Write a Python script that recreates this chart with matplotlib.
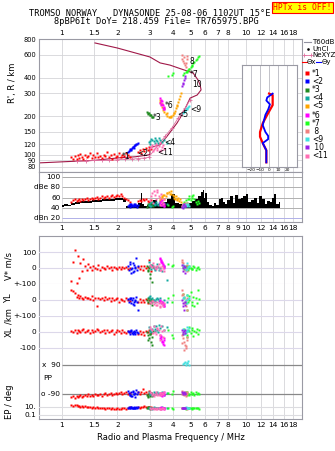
import matplotlib
matplotlib.use('Agg')
import matplotlib.pyplot as plt
from matplotlib.ticker import NullLocator, NullFormatter
from matplotlib.patches import Rectangle

# ---------------- data ----------------
# mode 1 (*1, red)
f1 = [1.12, 1.15, 1.17, 1.2, 1.22, 1.24, 1.26, 1.28, 1.3, 1.33, 1.36, 1.39, 1.42, 1.45, 1.48,
      1.51, 1.54, 1.57, 1.6, 1.64, 1.68, 1.72, 1.76, 1.8, 1.84, 1.88, 1.92, 1.96, 2.0, 2.04,
      2.08, 2.12, 2.17, 2.22, 2.27, 2.35, 2.6, 2.65, 2.7, 2.75, 2.8, 2.86, 2.92, 2.98, 3.04]
h1 = [95, 93, 97, 92, 99, 94, 101, 96, 93, 100, 95, 98, 103, 94, 99, 96, 102, 95, 98, 94, 100,
      97, 104, 95, 99, 93, 101, 96, 98, 102, 95, 100, 97, 103, 99, 96, 104, 108, 102, 110, 106,
      112, 108, 115, 110]
a1 = [52, 55, 58, 54, 56, 57, 53, 58, 55, 57, 59, 56, 58, 60, 57, 59, 61, 58, 60, 62, 59, 61,
      63, 60, 62, 64, 61, 63, 65, 62, 66, 63, 60, 58, 55, 52, 54, 56, 53, 57, 55, 58, 54, 52, 56]
v1 = [-80, 40, 110, -95, 75, -60, 30, -20, 55, 10, -15, 25, 5, -10, 15, 0, -5, 20, -12, 8, 3,
      -8, 12, -3, 6, -10, 4, 0, -6, 9, -4, 7, -2, 5, -8, 3, 8, -5, 10, -12, 15, -3, 6, 50, -20]
yl1 = [60, 55, 45, 20, 30, 10, 25, 15, 5, 20, 10, 15, 5, 25, 0, 10, -40, 15, 5, 10, 0, 20, 5,
       10, -5, 15, 0, 5, 10, -10, 5, 0, -5, 10, 0, -5, -10, 5, -15, 0, -10, 5, -20, 0, -5]
xl1 = [5, 0, 10, -5, 15, 5, 0, 10, 20, 0, 5, 15, -5, 10, 0, 5, 20, 10, 0, 5, 15, -5, 10, 0, 5,
       10, -10, 0, 15, 5, -5, 10, 0, -5, 5, 0, -15, 5, -10, 0, -20, 5, 0, 10, -5]
pp1 = [-110, -105, -115, -100, -108, -102, -95, -110, -100, -98, -105, -92, -100, -96, -104,
       -90, -98, -94, -88, -100, -92, -86, -96, -90, -84, -94, -88, -82, -92, -86, -80, -90,
       -84, -78, -88, -82, -76, -90, -80, -60, -85, -78, -88, -70, -82]
ep1 = [30, 20, 40, 25, 15, 20, 12, 18, 10, 15, 8, 12, 10, 7, 9, 6, 8, 5, 7, 6, 5, 4, 6, 5, 4,
       5, 3, 4, 5, 3, 4, 6, 5, 4, 6, 8, 10, 7, 12, 9, 14, 10, 8, 12, 10]

# mode 2 (<2, blue)
f2 = [2.28, 2.31, 2.34, 2.37, 2.4, 2.43, 2.46, 2.49, 2.52, 2.55, 2.58, 2.33, 2.42, 2.5, 2.38, 2.47]
h2 = [104, 106, 108, 110, 112, 114, 116, 118, 120, 121, 122, 110, 115, 119, 108, 113]
a2 = [44, 46, 42, 48, 45, 43, 47, 44, 46, 42, 45, 48, 43, 47, 44, 46]
v2 = [10, -15, 25, -5, 0, 30, -20, 5, 60, -10, 15, 40, -25, 0, -30, 20]
yl2 = [5, -10, 15, -20, 0, 10, -30, -5, 20, -15, -60, 5, -25, 0, 10, -10]
xl2 = [5, 0, -10, 10, -5, 0, 5, -15, 10, 0, -5, 5, -10, 0, 5, -5]
pp2 = [-70, -85, -95, -75, -100, -80, -90, -110, -65, -88, -78, -95, -72, -85, -100, -90]
ep2 = [6, 8, 5, 10, 7, 6, 9, 5, 8, 7, 10, 6, 7, 5, 8, 6]

# mode 3 (*3, dark green)
f3 = [2.88, 2.92, 2.96, 3.0, 3.04, 3.08, 3.12, 2.94, 3.02, 3.1]
h3 = [214, 212, 210, 205, 202, 198, 195, 208, 204, 197]
a3 = [42, 45, 48, 44, 50, 46, 43, 47, 45, 49]
v3 = [10, -20, 0, -40, 20, -90, 5, -10, -60, 15]
yl3 = [0, -10, 10, -20, 5, -30, 0, 15, -5, -15]
xl3 = [0, -20, -40, -10, -60, -30, 5, -50, -15, -80]
pp3 = [-95, -100, -90, -105, -85, -100, -95, -110, -92, -98]
ep3 = [6, 5, 8, 4, 6, 7, 5, 9, 6, 5]

# mode 4 (<4, teal)
f4 = [2.95, 3.0, 3.05, 3.1, 3.15, 3.2, 3.25, 3.3, 3.35, 3.4, 3.5, 3.6, 3.7, 3.02, 3.18, 3.32]
h4 = [125, 128, 132, 130, 127, 134, 131, 128, 135, 130, 126, 129, 124, 120, 122, 124]
a4 = [46, 50, 44, 52, 48, 45, 51, 47, 49, 53, 46, 50, 48, 44, 47, 45]
v4 = [35, 10, -5, 20, 0, -15, 5, 25, -10, 0, -20, 10, -75, 15, -5, 5]
yl4 = [20, 5, -10, 10, 0, -15, 5, 15, -5, 10, -20, 0, -10, 25, -5, 5]
xl4 = [30, 10, 0, 20, 40, 5, 35, 15, 45, 25, 40, 10, 30, 5, 20, 0]
pp4 = [-80, -90, -85, -95, -75, -88, -92, -80, -86, -90, -78, -95, -84, -88, -82, -90]
ep4 = [5, 7, 6, 4, 8, 5, 6, 7, 5, 6, 8, 5, 6, 7, 5, 6]

# mode 5 (<5, orange)
f5 = [3.4, 3.42, 3.45, 3.5, 3.55, 3.6, 3.66, 3.72, 3.8, 3.86, 3.93, 4.0, 4.06, 4.12, 4.18,
      4.22, 4.26, 4.3, 4.35, 4.42, 3.48, 3.58, 3.7, 3.9, 4.05, 4.2]
h5 = [268, 258, 248, 236, 224, 214, 206, 200, 197, 196, 198, 203, 210, 220, 232, 245, 258,
      272, 288, 305, 250, 230, 210, 200, 212, 240]
a5 = [55, 60, 58, 62, 65, 57, 63, 68, 70, 66, 72, 64, 60, 58, 62, 56, 60, 54, 58, 52, 61, 64,
      69, 67, 63, 57]

# mode 6 (*6, magenta)
f6 = [3.4, 3.43, 3.46, 3.5, 3.53, 3.56, 3.6, 3.45, 3.52, 3.58, 3.42, 3.5]
h6 = [275, 268, 260, 250, 242, 235, 228, 245, 232, 225, 255, 262]
a6 = [48, 52, 45, 55, 50, 43, 47, 53, 49, 44, 51, 46]
v6 = [60, 50, 40, 30, 20, 10, 0, 45, 25, 5, 55, 35]
yl6 = [-5, -10, -20, -15, -30, -25, -40, -10, -20, -35, 0, -15]
xl6 = [-20, -30, -45, -60, -75, -50, -35, -25, -65, -80, -40, -55]
pp6 = [-90, -85, -95, -100, -88, -92, -80, -98, -86, -94, -90, -82]
ep6 = [5, 6, 4, 7, 5, 6, 4, 8, 5, 6, 7, 5]

# mode 7 (*7, green)
f7 = [4.55, 4.62, 4.7, 4.78, 4.85, 4.92, 5.0, 5.08, 5.16, 5.24, 5.32, 5.4, 5.48, 5.56, 4.75,
      4.9, 5.05, 4.0, 3.96, 3.76]
h7 = [420, 430, 440, 450, 460, 470, 485, 500, 515, 530, 545, 560, 575, 590, 445, 465, 490,
      434, 418, 411]
a7 = [48, 52, 56, 50, 58, 62, 55, 60, 64, 57, 52, 48, 54, 50, 46, 58, 62, 44, 42, 45]
v7 = [5, -5, 10, 0, -10, 15, 0, -5, 10, 5, -10, 0, 5, -5, 10, 0, -8, 20, 15, 25]
yl7 = [40, 10, -20, 30, -10, 0, 50, -30, 20, -40, 10, -20, 60, 5, -60, 25, -15, 30, -10, 15]
xl7 = [-10, 20, 0, -20, 10, 30, -5, 15, -25, 5, 0, 20, -15, 10, -30, 5, 25, -40, -20, 10]
pp7 = [-85, -90, -80, -95, -88, -92, -78, -90, -85, -95, -80, -90, -86, -92, -75, -98, -88,
       -70, -90, -82]
ep7 = [5, 6, 4, 7, 5, 6, 5, 4, 6, 5, 7, 6, 5, 4, 6, 5, 7, 4, 6, 5]

# mode 8 (8, salmon)
f8 = [4.5, 4.55, 4.6, 4.65, 4.7, 4.75, 4.8, 4.5, 4.6, 4.7]
h8 = [560, 540, 520, 500, 520, 560, 590, 600, 580, 480]
a8 = [44, 48, 46, 50, 45, 47, 49, 43, 46, 48]
v8 = [50, 30, 10, -10, 0, 20, -20, 40, 5, -5]
yl8 = [60, 40, 20, -10, -40, -60, 10, 30, -20, 0]
xl8 = [-20, -40, -60, -80, -100, -50, -30, -70, -110, -90]
pp8 = [-70, -85, -95, -80, -100, -90, -75, -88, -92, -85]
ep8 = [5, 6, 7, 5, 6, 4, 6, 5, 7, 6]

# mode 9 (<9, cyan)
f9 = [4.55, 4.6, 4.65, 4.7, 4.75, 4.8, 4.85, 4.9]
h9 = [212, 216, 220, 225, 228, 232, 235, 238]
a9 = [42, 45, 44, 47, 43, 46, 48, 44]
v9 = [20, 10, 0, -10, 30, -5, 5, 15]
yl9 = [10, 20, -10, 0, 30, -20, 5, 15]
xl9 = [20, 10, -10, 0, 30, 15, 5, 25]
pp9 = [95, 100, 110, 90, 105, 100, 115, 92]
ep9 = [6, 7, 5, 8, 6, 7, 5, 6]

# mode 10 (10, purple)
f10 = [4.48, 4.52, 4.56, 4.6, 4.64, 4.68]
h10 = [345, 355, 365, 380, 395, 410]
a10 = [42, 45, 40, 47, 44, 43]
v10 = [20, 0, -20, 10, -30, 5]
yl10 = [0, -20, -40, -60, -10, -30]
xl10 = [10, 0, -10, 5, -5, 15]
pp10 = [-80, -85, -90, -75, -88, -82]
ep10 = [6, 5, 7, 6, 5, 6]

# mode 11 (<11, pink)
f11 = [3.0, 3.05, 3.1, 3.15, 3.2, 3.25, 3.3, 3.35, 3.4, 3.45, 3.5, 3.55, 3.6, 3.12, 3.28, 3.42]
h11 = [112, 115, 118, 110, 116, 120, 113, 117, 122, 108, 114, 119, 111, 106, 109, 107]
a11 = [55, 62, 68, 72, 65, 58, 70, 63, 60, 66, 52, 48, 57, 50, 74, 45]
v11 = [20, 10, 5, 15, 0, -5, 10, 25, 5, -10, 15, 0, -20, 30, 8, -15]
yl11 = [-10, -20, -5, -25, -15, -30, -10, -20, -35, -15, -25, -40, -20, -5, -30, -45]
xl11 = [30, 20, 10, 40, 0, -10, 25, 15, -20, 35, 5, -30, 10, -5, 20, -50]
pp11 = [-80, -85, -95, -100, -90, -78, -88, -95, -82, -98, -85, -92, -80, -88, -96, -84]
ep11 = [5, 4, 6, 3, 5, 4, 6, 5, 4, 3, 5, 6, 4, 5, 4, 3]

# true height profile and NeXYZ
rf = [0.75, 1.06, 1.5, 2.0, 2.5, 2.9, 3.0, 3.0, 3.2, 3.41, 3.72, 4.21, 4.54, 4.96, 5.42, 5.69,
      5.62, 5.48, 5.15, 4.37, 3.86, 3.41, 3.0, 2.0, 1.51]
rh = [86, 88, 90, 94, 96, 99, 100, 113, 116, 119, 139, 176, 211, 276, 292, 320, 350, 382, 434,
      470, 500, 520, 579, 680, 745]
ne_f = [1.2, 1.35, 1.5, 1.65, 1.8, 2.0, 2.2, 2.4, 2.6, 2.8, 2.95, 3.63, 3.96, 4.27, 4.66, 4.96]
ne_h = [89, 89, 90, 90, 90, 91, 92, 92, 93, 94, 95, 139, 162, 193, 231, 267]

# tilt inset
tx = [0, 4, 4, 4, -1, -7, -10, -10, -7, -3, -3]
tx_h = [300, 292, 260, 244, 211, 176, 150, 138, 123, 108, 87]
ty = [4, -2, -3, 1, -1, -4, -7, -4, -1, -1, -7, -3, -3]
ty_h = [300, 280, 265, 247, 225, 205, 170, 150, 140, 132, 123, 108, 87]

# T60dB amplitude trace (top and bottom of the black band)
tf = [1.0, 1.05, 1.1, 1.15, 1.2, 1.3, 1.4, 1.5, 1.6, 1.7, 1.8, 1.9, 2.0, 2.1, 2.2, 2.25, 2.35,
      2.45, 2.55, 2.65, 2.7, 2.75, 2.85, 2.95, 3.05, 3.2, 3.4, 3.6, 3.8, 4.0, 4.2, 4.4, 4.6,
      4.8, 5.0, 5.2, 5.4, 5.6, 5.75, 5.85, 5.95, 6.05, 6.2, 6.4, 6.6, 6.8, 7.0, 7.2, 7.4, 7.6,
      7.8, 8.0, 8.3, 8.6, 8.9, 9.2, 9.5, 9.8, 10.1, 10.4, 10.8, 11.2, 11.6, 12.0, 12.4, 12.8,
      13.2, 13.6, 14.0, 14.4, 14.8, 15.2]
tv = [45, 48, 46, 50, 52, 53, 54, 55, 56, 57, 58, 58, 60, 59, 57, 44, 46, 43, 45, 50, 68, 48,
      44, 46, 50, 55, 48, 52, 58, 66, 50, 48, 44, 46, 50, 54, 58, 62, 70, 74, 60, 68, 52, 45,
      44, 50, 46, 58, 60, 52, 48, 56, 62, 50, 64, 58, 60, 62, 66, 52, 56, 60, 50, 62, 58, 48,
      54, 52, 60, 66, 48, 52]
tb = [42, 44, 43, 46, 48, 49, 50, 51, 52, 53, 54, 54, 56, 55, 52, 40, 40, 40, 40, 40, 40, 40,
      40, 40, 40, 40, 40, 40, 40, 40, 40, 40, 40, 40, 40, 40, 40, 40, 40, 40, 40, 40, 40, 40,
      40, 40, 40, 40, 40, 40, 40, 40, 40, 40, 40, 40, 40, 40, 40, 40, 40, 40, 40, 40, 40, 40,
      40, 40, 40, 40, 40, 40]

top_ticks = [1, 1.5, 2, 3, 4, 5, 6, 7, 8, 10, 12, 14, 16, 18]
mid_ticks = [1, 1.5, 2, 3, 4, 5, 6, 7, 8, 9, 10, 12, 14, 16, 18]
h_ticks = [80, 90, 100, 120, 150, 200, 300, 400, 600, 800]

RED, BLUE, DGREEN, TEAL = '#ff0000', '#0000ff', '#208a20', '#10a8a0'
ORANGE, MAGENTA, GREEN, SALMON = '#ffa500', '#ff00ff', '#20ff20', '#f08080'
CYAN, PURPLE, PINK = '#40e0e0', '#9a20e8', '#ff6eb4'

modes = [
    ('*1', RED, f1, h1, a1, v1, yl1, xl1, pp1, ep1),
    ('<2', BLUE, f2, h2, a2, v2, yl2, xl2, pp2, ep2),
    ('*3', DGREEN, f3, h3, a3, v3, yl3, xl3, pp3, ep3),
    ('<4', TEAL, f4, h4, a4, v4, yl4, xl4, pp4, ep4),
    ('<5', ORANGE, f5, h5, a5, None, None, None, None, None),
    ('*6', MAGENTA, f6, h6, a6, v6, yl6, xl6, pp6, ep6),
    ('*7', GREEN, f7, h7, a7, v7, yl7, xl7, pp7, ep7),
    (' 8', SALMON, f8, h8, a8, v8, yl8, xl8, pp8, ep8),
    ('<9', CYAN, f9, h9, a9, v9, yl9, xl9, pp9, ep9),
    (' 10', PURPLE, f10, h10, a10, v10, yl10, xl10, pp10, ep10),
    ('<11', PINK, f11, h11, a11, v11, yl11, xl11, pp11, ep11),
]

# label positions next to echo traces (freq, height)
mode_labels = [('*1', 2.1, 96), ('<2', 2.55, 102), ('*3', 3.12, 193), ('<4', 3.6, 124),
               ('<11', 3.3, 104), ('<5', 4.2, 204), ('*6', 3.6, 240), ('<9', 4.95, 223),
               ('10', 5.1, 350), ('*7', 4.95, 420), ('8', 4.95, 530)]

# ---------------- figure ----------------
W, H = 335, 451
fig = plt.figure(figsize=(W / 100, H / 100), dpi=100)
GRID = '#d4d4d8'
FRAME = '#9a9aa4'
FS = 5.3
MS = 2.0


def px_axes(x0, y0, x1, y1):
    return fig.add_axes([x0 / W, 1 - y1 / H, (x1 - x0) / W, (y1 - y0) / H])


def freq_x(ax, ticks=None, where='bottom'):
    ax.set_xscale('log')
    ax.set_xlim(0.75, 20.1)
    ax.xaxis.set_minor_locator(NullLocator())
    ax.xaxis.set_minor_formatter(NullFormatter())
    if ticks is None:
        ax.set_xticks([])
    else:
        ax.set_xticks(ticks, [('%g' % t) for t in ticks])
        if where == 'top':
            ax.xaxis.tick_top()
    ax.tick_params(axis='x', length=0, labelsize=FS, pad=2)


def frame(ax):
    for s in ax.spines.values():
        s.set_color(FRAME)
        s.set_linewidth(0.8)


def no_frame(ax):
    ax.patch.set_visible(False)
    for s in ax.spines.values():
        s.set_visible(False)


# ---- top panel: virtual height ----
ax_h = px_axes(39, 39, 302, 172)
freq_x(ax_h, top_ticks, 'top')
ax_h.set_yscale('log')
ax_h.set_ylim(73, 800)
ax_h.yaxis.set_minor_locator(NullLocator())
ax_h.yaxis.set_minor_formatter(NullFormatter())
ax_h.set_yticks(h_ticks, [str(t) for t in h_ticks])
ax_h.tick_params(axis='y', length=0, labelsize=4.8, pad=2)
frame(ax_h)
for t in top_ticks:
    ax_h.axvline(t, color=GRID, lw=0.6, zorder=0)
for t in h_ticks[:-1]:
    ax_h.axhline(t, color=GRID, lw=0.6, zorder=0)
ax_h.plot(rf, rh, color='#a01848', lw=0.8, zorder=2)
ax_h.plot(ne_f, ne_h, color='#e070a0', lw=0.6, marker='+', ms=3, mew=0.6, zorder=2)
for name, c, f, h, *rest in modes:
    ax_h.plot(f, h, 's', ms=MS, mfc=c, mec='none', zorder=3)
for txt, fx, hy in mode_labels:
    ax_h.text(fx, hy, txt, fontsize=5.5, color='black', ha='left', va='center', zorder=4)
fig.text(13 / W, 1 - 83 / H, "R', R / km", rotation=90, fontsize=6, ha='center', va='center')

# tilt inset
ax_t = px_axes(242, 65, 297, 167)
ax_t.set_xlim(-30, 31)
ax_t.set_yscale('log')
ax_t.set_ylim(80, 502)
ax_t.yaxis.set_minor_locator(NullLocator())
ax_t.set_yticks([])
ax_t.set_xticks([-20, -10, 0, 10, 20])
ax_t.tick_params(axis='x', length=0, labelsize=3.1, pad=1)
ax_t.set_xlabel('Tilt / deg', fontsize=4, labelpad=0)
for t in [-20, -10, 0, 10, 20]:
    ax_t.axvline(t, color='#b8b8c0', lw=0.6, zorder=0)
frame(ax_t)
ax_t.plot(tx, tx_h, color=RED, lw=1.6)
ax_t.plot(ty, ty_h, color=BLUE, lw=1.3)

# ---- amplitude panel ----
ax_d = px_axes(39, 172, 302, 222)
freq_x(ax_d, mid_ticks, 'bottom')
ax_d.set_ylim(12, 110)
ax_d.set_yticks([])
frame(ax_d)
for t in mid_ticks:
    ax_d.axvline(t, color=GRID, lw=0.6, zorder=0)
for lev, col in [(100, '#a8a8a8'), (80, '#b0b0b0'), (60, '#b0b0b0'), (40, '#b0b0b0'), (20, '#b0b0e8')]:
    ax_d.hlines(lev, 1.0, 20.1, color=col, lw=0.7, zorder=1)
for lev, lab in [(100, '100'), (80, 'dBe 80'), (60, '60'), (40, '40'), (20, 'dBn 20')]:
    ax_d.text(0.98, lev, lab, fontsize=FS, ha='right', va='center')
ax_d.fill_between(tf, tb, tv, step='mid', color='black', lw=0, zorder=2)
for name, c, f, h, a, *rest in modes:
    ax_d.plot(f, a, 's', ms=MS, mfc=c, mec='none', zorder=3)

# ---- lower panel: velocities, polarisation ----
ax_l = px_axes(39, 236, 302, 419)
freq_x(ax_l, top_ticks, 'bottom')
ax_l.set_yticks([])
frame(ax_l)
for t in top_ticks:
    ax_l.axvline(t, color=GRID, lw=0.6, zorder=0)
ax_l.set_xlabel('Radio and Plasma Frequency / MHz', fontsize=6, labelpad=4)

ax_v = px_axes(39, 240, 302, 284)
ax_y = px_axes(39, 284, 302, 316)
ax_x = px_axes(39, 316, 302, 356)
ax_p = px_axes(39, 356, 302, 400)
ax_e = px_axes(39, 400, 302, 419)
sub = [(ax_v, (-100, 175), [100, 0], ['100', '0'], [100, 0, -100]),
       (ax_y, (-100, 100), [100, 0], ['+-100', '0'], [0]),
       (ax_x, (-150, 100), [100, 0, -100], ['+-100', '0', '-100'], [100, 0, -100])]
for ax, lim, tk, tl, lines in sub:
    freq_x(ax)
    no_frame(ax)
    ax.set_ylim(lim)
    ax.set_yticks(tk, tl)
    ax.tick_params(axis='y', length=0, labelsize=FS, pad=2)
    for lv in lines:
        ax.axhline(lv, color='#dcd8ea', lw=0.8, zorder=0)

freq_x(ax_p)
no_frame(ax_p)
ax_p.set_ylim(-127, 146)
ax_p.set_yticks([])
ax_p.hlines([90, -90], 1.0, 20.1, color='#888888', lw=0.9, zorder=1)
ax_p.text(0.98, 90, 'x  90', fontsize=FS, ha='right', va='center')
ax_p.text(0.98, -90, 'o -90', fontsize=FS, ha='right', va='center')
ax_p.text(0.79, 10, 'PP', fontsize=FS, ha='left', va='center')

freq_x(ax_e)
no_frame(ax_e)
ax_e.set_yscale('log')
ax_e.set_ylim(0.01, 562)
ax_e.yaxis.set_minor_locator(NullLocator())
ax_e.yaxis.set_minor_formatter(NullFormatter())
ax_e.set_yticks([10, 0.1], ['10.', '0.1'])
ax_e.tick_params(axis='y', length=0, labelsize=FS, pad=2)
ax_e.axhline(10, color='#dcdce0', lw=0.8, zorder=0)
ax_e.axhline(0.1, color='#dcdce0', lw=0.8, zorder=0)

for name, c, f, h, a, v, yl, xl, pp, ep in modes:
    if v is None:
        continue
    ax_v.plot(f, v, 's', ms=MS, mfc=c, mec='none')
    ax_y.plot(f, yl, 's', ms=MS, mfc=c, mec='none')
    ax_x.plot(f, xl, 's', ms=MS, mfc=c, mec='none')
    ax_p.plot(f, pp, 's', ms=MS, mfc=c, mec='none')
    ax_e.plot(f, ep, 's', ms=MS, mfc=c, mec='none')

for y, lab in [(266, 'V* m/s'), (298, 'YL'), (316, '/km'), (332, 'XL'), (402, 'EP / deg')]:
    fig.text(9 / W, 1 - y / H, lab, rotation=90, fontsize=6, ha='center', va='center')

# ---- titles, legend, status box (pixel overlay) ----
ov = fig.add_axes([0, 0, 1, 1])
ov.set_xlim(0, W)
ov.set_ylim(H, 0)
ov.axis('off')
ov.patch.set_visible(False)
ov.text(150, 13, 'TROMSO NORWAY   DYNASONDE 25-08-06 1102UT 15\u00b0E', fontsize=6.2,
        family='DejaVu Sans Mono', ha='center', va='center')
ov.text(156, 21, '8pBP6It DoY= 218.459 File= TR765975.BPG', fontsize=6.2,
        family='DejaVu Sans Mono', ha='center', va='center')
ov.add_patch(Rectangle((272, 2), 61, 11, facecolor='#ffff00', edgecolor='#ff0000', lw=0.8))
ov.text(302.5, 7.8, 'HPTx is OFF!', fontsize=5.8, color='#ff0000', ha='center', va='center',
        family='DejaVu Sans Mono')

lx = 304
ov.plot([lx, lx + 7], [42, 42], color='#9090a0', lw=0.8)
ov.text(lx + 8, 42, 'T60dB', fontsize=5, va='center')
ov.plot([lx + 4], [49], 's', ms=0.8, color='black')
ov.text(lx + 8, 49, 'UnCl', fontsize=5, va='center')
ov.plot([lx, lx + 7], [55, 55], color='#e070a0', lw=0.6, marker='+', ms=3, mew=0.6)
ov.text(lx + 8, 55, 'NeXYZ', fontsize=5, va='center')
ov.plot([lx - 2, lx + 3], [62, 62], color=RED, lw=0.8)
ov.text(lx + 3, 62, '\u0398x', fontsize=5, va='center')
ov.plot([lx + 12, lx + 17], [62, 62], color=BLUE, lw=0.8)
ov.text(lx + 18, 62, '\u0398y', fontsize=5, va='center')
ly = [73, 81, 90, 98, 106, 115, 123, 131, 139, 147, 156]
for (name, c, *rest), yy in zip(modes, ly):
    ov.plot([lx + 3], [yy], 's', ms=2.6, mfc=c, mec='none')
    ov.text(lx + 8, yy, name, fontsize=5.5, va='center')

fig.savefig('out.png', dpi=100)
